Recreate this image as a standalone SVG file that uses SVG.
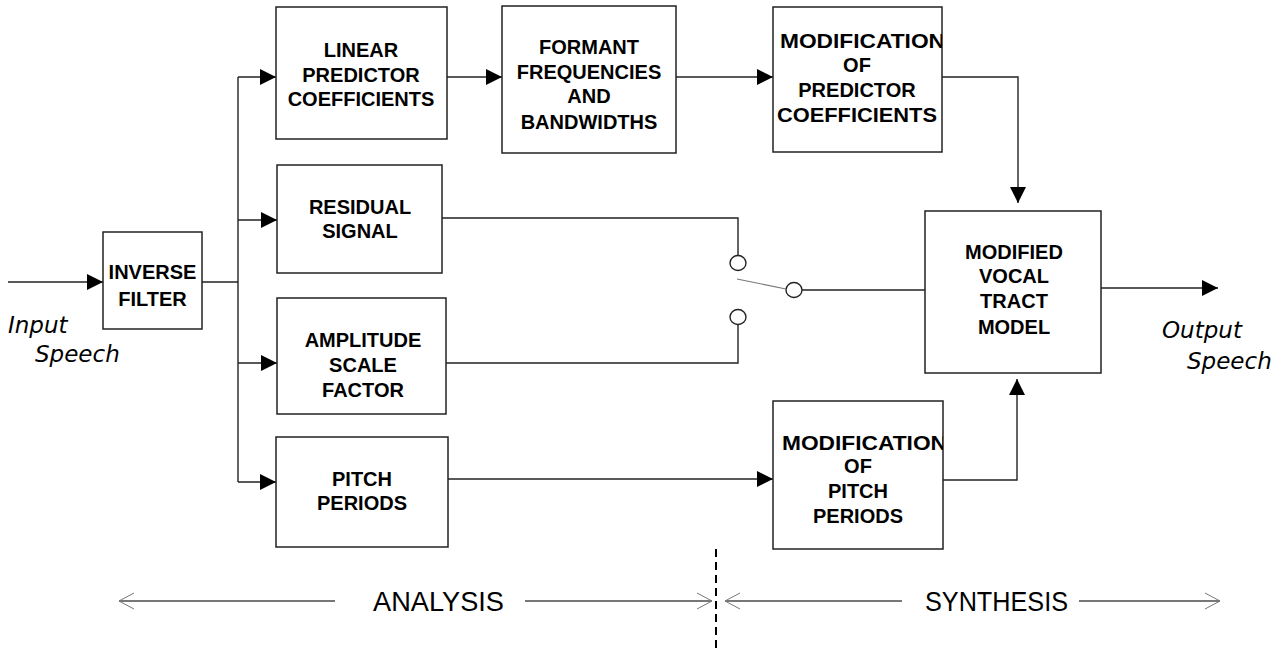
<svg xmlns="http://www.w3.org/2000/svg" width="1288" height="650" viewBox="0 0 1288 650">
<style>
.box{fill:#fff;stroke:#222;stroke-width:1.5}
.t{font-family:"Liberation Sans",Arial,sans-serif;font-weight:bold;font-size:20px;fill:#000;text-anchor:middle}
.lbl{font-family:"DejaVu Sans",sans-serif;font-style:italic;font-size:23px;fill:#000}
.big{font-family:"Liberation Sans",Arial,sans-serif;font-size:27px;fill:#000}
.c{fill:none;stroke:#222;stroke-width:1.4}
.ca{fill:none;stroke:#222;stroke-width:1.4;marker-end:url(#ah)}
.g{fill:none;stroke:#777;stroke-width:2}
.chev{fill:none;stroke:#777;stroke-width:1}
</style>
<defs>
<marker id="ah" markerUnits="userSpaceOnUse" markerWidth="16" markerHeight="16" refX="16" refY="8" orient="auto">
<path d="M0,0 L16,8 L0,16 Z" fill="#000"/>
</marker>
<clipPath id="cp1"><rect x="773" y="7" width="169" height="145"/></clipPath>
<clipPath id="cp2"><rect x="773" y="401" width="170" height="148"/></clipPath>
</defs>
<rect width="1288" height="650" fill="#fff"/>

<g id="connectors">
<line class="ca" x1="8" y1="282" x2="103" y2="282"/>
<line class="c" x1="202" y1="282" x2="238" y2="282"/>
<line class="c" x1="238" y1="77" x2="238" y2="482"/>
<line class="ca" x1="238" y1="77" x2="276" y2="77"/>
<line class="ca" x1="238" y1="220" x2="277" y2="220"/>
<line class="ca" x1="238" y1="363" x2="277" y2="363"/>
<line class="ca" x1="238" y1="482" x2="276" y2="482"/>
<line class="ca" x1="447" y1="77" x2="502" y2="77"/>
<line class="ca" x1="676" y1="77" x2="773" y2="77"/>
<polyline class="ca" points="942,77 1018,77 1018,203"/>
<polyline class="c" points="442,218 738,218 738,255"/>
<polyline class="c" points="446,363 738,363 738,325"/>
<ellipse class="c" cx="738" cy="263" rx="8" ry="7.5"/>
<ellipse class="c" cx="738" cy="317" rx="8" ry="7.5"/>
<ellipse class="c" cx="794" cy="290" rx="8" ry="7.5"/>
<line x1="737" y1="279" x2="786" y2="289" stroke="#777" stroke-width="1.2"/>
<line class="c" x1="802" y1="290" x2="925" y2="290"/>
<line class="ca" x1="448" y1="479" x2="773" y2="479"/>
<polyline class="ca" points="943,480 1017,480 1017,379"/>
<line class="ca" x1="1101" y1="288" x2="1218" y2="288"/>
</g>

<g id="inverse-filter">
<rect class="box" x="103" y="232" width="99" height="97"/>
<text class="t" x="152.5" y="279">INVERSE</text>
<text class="t" x="152.5" y="306">FILTER</text>
</g>
<g id="lpc">
<rect class="box" x="276" y="7" width="171" height="132"/>
<text class="t" x="361" y="57">LINEAR</text>
<text class="t" x="361" y="82">PREDICTOR</text>
<text class="t" x="361" y="106">COEFFICIENTS</text>
</g>
<g id="formant">
<rect class="box" x="502" y="6" width="174" height="147"/>
<text class="t" x="589" y="54">FORMANT</text>
<text class="t" x="589" y="79">FREQUENCIES</text>
<text class="t" x="589" y="103">AND</text>
<text class="t" x="589" y="129">BANDWIDTHS</text>
</g>
<g id="mod-predictor">
<rect class="box" x="773" y="7" width="169" height="145"/>
<g clip-path="url(#cp1)">
<text class="t" x="780" y="48" style="text-anchor:start" textLength="165" lengthAdjust="spacingAndGlyphs">MODIFICATION</text>
</g>
<text class="t" x="857" y="72">OF</text>
<text class="t" x="857" y="97">PREDICTOR</text>
<text class="t" x="857" y="122" textLength="160" lengthAdjust="spacingAndGlyphs">COEFFICIENTS</text>
</g>
<g id="residual">
<rect class="box" x="277" y="165" width="165" height="108"/>
<text class="t" x="360" y="214">RESIDUAL</text>
<text class="t" x="360" y="238">SIGNAL</text>
</g>
<g id="amplitude">
<rect class="box" x="277" y="298" width="169" height="116"/>
<text class="t" x="363" y="347">AMPLITUDE</text>
<text class="t" x="363" y="372">SCALE</text>
<text class="t" x="363" y="397">FACTOR</text>
</g>
<g id="pitch">
<rect class="box" x="276" y="437" width="172" height="110"/>
<text class="t" x="362" y="486">PITCH</text>
<text class="t" x="362" y="510">PERIODS</text>
</g>
<g id="mod-pitch">
<rect class="box" x="773" y="401" width="170" height="148"/>
<g clip-path="url(#cp2)">
<text class="t" x="782" y="450" style="text-anchor:start" textLength="165" lengthAdjust="spacingAndGlyphs">MODIFICATION</text>
</g>
<text class="t" x="858" y="473">OF</text>
<text class="t" x="858" y="498">PITCH</text>
<text class="t" x="858" y="523">PERIODS</text>
</g>
<g id="vocal-tract">
<rect class="box" x="925" y="211" width="176" height="162"/>
<text class="t" x="1014" y="259">MODIFIED</text>
<text class="t" x="1014" y="283">VOCAL</text>
<text class="t" x="1014" y="308">TRACT</text>
<text class="t" x="1014" y="334">MODEL</text>
</g>

<g id="labels">
<text class="lbl" x="8" y="333">Input</text>
<text class="lbl" x="35" y="362">Speech</text>
<text class="lbl" x="1162" y="338">Output</text>
<text class="lbl" x="1187" y="369">Speech</text>
</g>

<g id="phases">
<line x1="716" y1="549" x2="716" y2="650" stroke="#000" stroke-width="2" stroke-dasharray="8,5"/>
<line class="g" x1="119" y1="601" x2="335" y2="601"/>
<polyline class="chev" points="134,593 119,601 134,609"/>
<text class="big" x="373" y="611" textLength="131" lengthAdjust="spacingAndGlyphs">ANALYSIS</text>
<line class="g" x1="525" y1="601" x2="712" y2="601"/>
<polyline class="chev" points="697,593 712,601 697,609"/>
<line class="g" x1="725" y1="601" x2="902" y2="601"/>
<polyline class="chev" points="740,593 725,601 740,609"/>
<text class="big" x="925" y="611" textLength="143" lengthAdjust="spacingAndGlyphs">SYNTHESIS</text>
<line class="g" x1="1079" y1="601" x2="1220" y2="601"/>
<polyline class="chev" points="1205,593 1220,601 1205,609"/>
</g>
</svg>
